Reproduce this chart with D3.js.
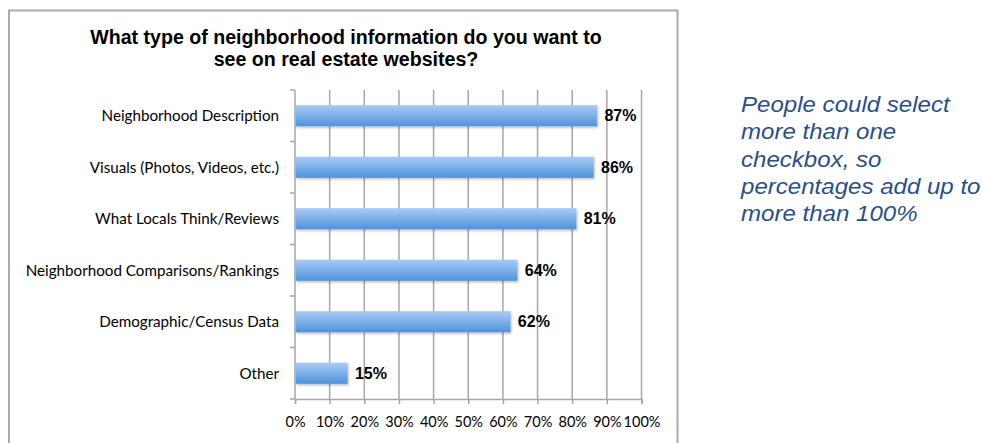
<!DOCTYPE html>
<html>
<head>
<meta charset="utf-8">
<script src="https://cdn.jsdelivr.net/npm/d3@7"></script>
<style>
  html, body { margin: 0; padding: 0; background: #fff; }
  svg { display: block; }
</style>
</head>
<body>
<svg id="chart" width="982" height="443"></svg>
<script>
// Survey responses: share of respondents wanting each kind of neighborhood info
const categories = [
  "Neighborhood Description",
  "Visuals (Photos, Videos, etc.)",
  "What Locals Think/Reviews",
  "Neighborhood Comparisons/Rankings",
  "Demographic/Census Data",
  "Other"
];
const values = [87, 86, 81, 64, 62, 15];
const tickValues = [0, 10, 20, 30, 40, 50, 60, 70, 80, 90, 100];
const titleLines = [
  "What type of neighborhood information do you want to",
  "see on real estate websites?"
];
const noteLines = [
  "People could select",
  "more than one",
  "checkbox, so",
  "percentages add up to",
  "more than 100%"
];

const svg = d3.select("#chart");

// gradient used for the bars (light top, deeper blue bottom)
const defs = svg.append("defs");
const grad = defs.append("linearGradient")
  .attr("id", "barGrad").attr("x1", 0).attr("y1", 0).attr("x2", 0).attr("y2", 1);
grad.append("stop").attr("offset", "0%").attr("stop-color", "#a9cbf5");
grad.append("stop").attr("offset", "100%").attr("stop-color", "#4f93dc");
const shadow = defs.append("filter").attr("id", "barShadow")
  .attr("x", "-5%").attr("y", "-20%").attr("width", "115%").attr("height", "160%");
shadow.append("feDropShadow").attr("dx", 1).attr("dy", 1.5).attr("stdDeviation", 1)
  .attr("flood-color", "#000").attr("flood-opacity", 0.25);

// chart frame (open at the bottom)
svg.append("path")
  .attr("d", "M9,445 L9,10.5 L677.5,10.5 L677.5,445")
  .attr("fill", "none").attr("stroke", "#aaaaaa").attr("stroke-width", 2);

// title
svg.append("g").selectAll("text").data(titleLines).join("text")
  .attr("x", 346).attr("y", (d, i) => 44 + i * 22)
  .attr("text-anchor", "middle")
  .attr("font-family", "Liberation Sans, Arial, sans-serif")
  .attr("font-weight", "bold").attr("font-size", 19.6)
  .attr("fill", "#000")
  .text(d => d);

const plot = { left: 295, right: 641.5, top: 90, bottom: 399 };

const x = d3.scaleLinear().domain([0, 100]).range([plot.left, plot.right]);
const y = d3.scaleBand().domain(categories).range([plot.top, plot.bottom])
  .paddingInner(0.59).paddingOuter(0.295);
const yOuter = d3.scaleBand().domain(categories).range([plot.top, plot.bottom]);

// vertical gridlines
svg.append("g").selectAll("line").data(tickValues.slice(1)).join("line")
  .attr("x1", d => x(d)).attr("x2", d => x(d))
  .attr("y1", plot.top).attr("y2", plot.bottom)
  .attr("stroke", "#a6a6a6").attr("stroke-width", 1.5);

// x axis
const xAxis = svg.append("g")
  .attr("transform", `translate(0,${plot.bottom})`)
  .call(d3.axisBottom(x).tickValues(tickValues).tickFormat(d => d + "%").tickSize(5).tickPadding(13));
xAxis.select(".domain").attr("stroke", "#a6a6a6").attr("stroke-width", 1.5);
xAxis.selectAll(".tick line").attr("stroke", "#a6a6a6").attr("stroke-width", 1.5);
xAxis.selectAll("text")
  .attr("font-family", "Lato, 'Open Sans', sans-serif").attr("font-size", 14.5).attr("fill", "#000");

// y axis line with category-boundary ticks
const yb = svg.append("g");
yb.append("line")
  .attr("x1", plot.left).attr("x2", plot.left)
  .attr("y1", plot.top).attr("y2", plot.bottom)
  .attr("stroke", "#a6a6a6").attr("stroke-width", 1.5);
const bounds = categories.map(c => yOuter(c)).concat([plot.bottom]);
yb.selectAll("line.tk").data(bounds).join("line").attr("class", "tk")
  .attr("x1", plot.left - 5).attr("x2", plot.left)
  .attr("y1", d => d).attr("y2", d => d)
  .attr("stroke", "#a6a6a6").attr("stroke-width", 1.5);

// category labels
svg.append("g").selectAll("text").data(categories).join("text")
  .attr("x", 279).attr("y", d => y(d) + y.bandwidth() / 2)
  .attr("dy", "0.35em").attr("text-anchor", "end")
  .attr("font-family", "Lato, 'Open Sans', sans-serif").attr("font-size", 15.2)
  .attr("fill", "#000")
  .text(d => d);

// bars
svg.append("g").selectAll("rect").data(values).join("rect")
  .attr("x", x(0) + 0.75)
  .attr("y", (d, i) => y(categories[i]))
  .attr("width", d => x(d) - x(0))
  .attr("height", y.bandwidth())
  .attr("fill", "url(#barGrad)")
  .attr("filter", "url(#barShadow)");

// value labels
svg.append("g").selectAll("text").data(values).join("text")
  .attr("x", d => x(d) + 8)
  .attr("y", (d, i) => y(categories[i]) + y.bandwidth() / 2)
  .attr("dy", "0.35em")
  .attr("font-family", "Liberation Sans, Arial, sans-serif")
  .attr("font-weight", "bold").attr("font-size", 16)
  .attr("fill", "#000")
  .text(d => d + "%");

// side note, set slightly wide
svg.append("g")
  .attr("transform", "translate(741,0) scale(1.12,1)")
  .selectAll("text").data(noteLines).join("text")
  .attr("x", 0).attr("y", (d, i) => 112 + i * 27.3)
  .attr("font-family", "Liberation Sans, Arial, sans-serif")
  .attr("font-style", "italic").attr("font-size", 21.5)
  .attr("fill", "#2b5088")
  .text(d => d);
</script>
</body>
</html>
